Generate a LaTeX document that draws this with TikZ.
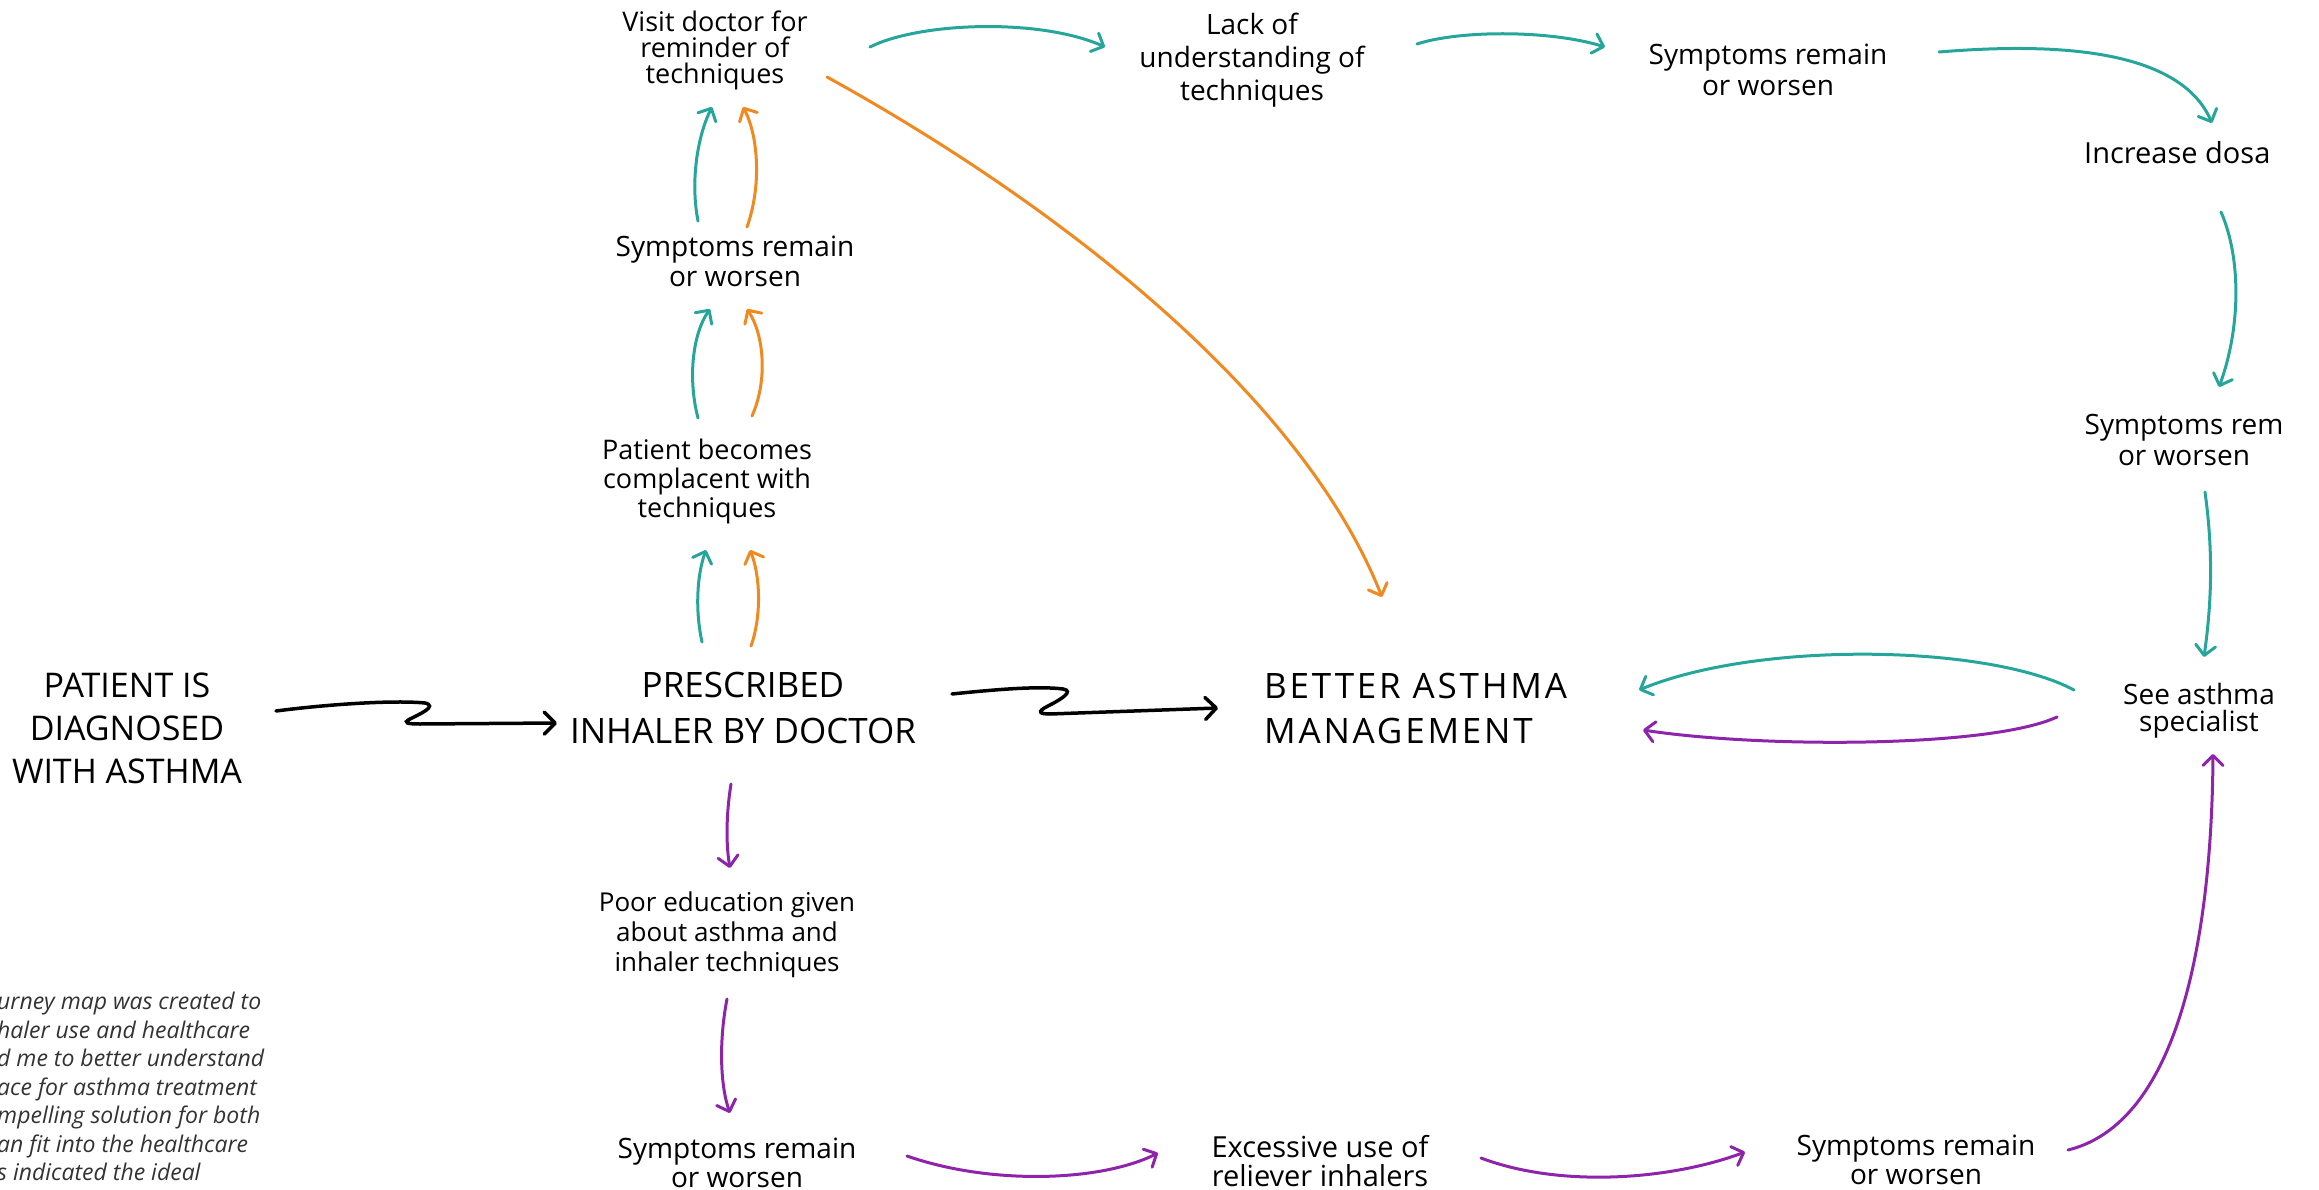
\documentclass[tikz,border=0pt]{standalone}
\usepackage{fontspec}
\setmainfont{Open Sans}
\newfontfamily\notefont{Open Sans}
\usetikzlibrary{arrows.meta,calc}

\definecolor{tealc}{HTML}{26A69A}
\definecolor{orangec}{HTML}{F0891F}
\definecolor{purplec}{HTML}{8E24AA}
\definecolor{notegray}{HTML}{333333}

\tikzset{
  headtxt/.style={align=center, inner sep=0pt, font=\fontsize{34}{43}\selectfont},
  steptxt/.style={align=center, inner sep=0pt, font=\fontsize{26}{29}\selectfont},
  flow/.style={line width=3pt, line cap=round,
    -{Straight Barb[length=10pt,width=20pt,round]}},
  mainflow/.style={flow, line width=3.5pt, black,
    -{Straight Barb[length=11pt,width=22pt,round]}},
  tealflow/.style={flow, tealc},
  orangeflow/.style={flow, orangec},
  purpleflow/.style={flow, purplec},
}

\begin{document}
\begin{tikzpicture}[x=1pt, y=-1pt]
\useasboundingbox (0,0) rectangle (2319,1190);
\clip (0,0) rectangle (2319,1190);

% main line
\node[headtxt] (pat) at (127,728) {PATIENT IS\\DIAGNOSED\\WITH ASTHMA};
\node[headtxt, font=\fontsize{35}{46}\selectfont] (pre) at (743,708) {PRESCRIBED\\INHALER BY DOCTOR};
\node[headtxt, font=\fontsize{35}{45}\selectfont\addfontfeatures{LetterSpace=8}, align=left, anchor=west] (bet) at (1264,708) {BETTER ASTHMA\\MANAGEMENT};

% upper path
\node[steptxt, font=\fontsize{27}{29}\selectfont] (comp) at (707,481) {Patient becomes\\complacent with\\techniques};
\node[steptxt, font=\fontsize{28}{30}\selectfont] (symC) at (735,261) {Symptoms remain\\or worsen};
\node[steptxt, font=\fontsize{27}{26}\selectfont] (vis) at (715,50) {Visit doctor for\\reminder of\\techniques};
\node[steptxt, font=\fontsize{28}{33}\selectfont] (lack) at (1252,60) {Lack of\\understanding of\\techniques};
\node[steptxt, font=\fontsize{28}{31}\selectfont] (symA) at (1768,70) {Symptoms remain\\or worsen};
\node[steptxt, font=\fontsize{29}{31}\selectfont, anchor=west] (inc) at (2084,153) {Increase dosa};
\node[steptxt, font=\fontsize{28}{31}\selectfont] (symB) at (2184,440) {Symptoms rem\\or worsen};
\node[steptxt, font=\fontsize{28}{27}\selectfont] (see) at (2199,711) {See asthma\\specialist};

% lower path
\node[steptxt, font=\fontsize{26}{30}\selectfont] (poor) at (727,935) {Poor education given\\about asthma and\\inhaler techniques};
\node[steptxt, font=\fontsize{28}{29}\selectfont] (symD) at (737,1163) {Symptoms remain\\or worsen};
\node[steptxt, font=\fontsize{29}{29}\selectfont] (exc) at (1320,1161) {Excessive use of\\reliever inhalers};
\node[steptxt, font=\fontsize{28}{29}\selectfont] (symE) at (1916,1160) {Symptoms remain\\or worsen};

% side note
\node[inner sep=0pt, anchor=north west, align=left, text=notegray,
      font=\notefont\itshape\fontsize{23}{28.5}\selectfont] (note) at (-3,992)
  {urney map was created to\\
   haler use and healthcare\\
   d me to better understand\\
   ace for asthma treatment\\
   mpelling solution for both\\
   an fit into the healthcare\\
   s indicated the ideal};

% main connectors (hand drawn zigzags)
\draw[mainflow] ($(pat)+(149,-17)$) .. controls (330,704) and (395,700) .. (425,703)
  .. controls (438,706) and (420,714) .. (410,719)
  .. controls (402,723) and (408,724) .. (420,724) -- ($(pre)+(-186,15)$);
\draw[mainflow] ($(pre)+(209,-14)$) .. controls (1000,689) and (1040,686) .. (1063,689)
  .. controls (1075,691) and (1060,700) .. (1048,706)
  .. controls (1036,712) and (1040,714) .. (1050,714) -- ($(bet.west)+(-46,0)$);

% teal / orange climb
\draw[tealflow] ($(pre)+(-41,-66)$) .. controls (695,610) and (697,575) .. ($(comp)+(-1,69)$);
\draw[orangeflow] ($(pre)+(8,-62)$) .. controls (762,615) and (760,575) .. ($(comp)+(43,69)$);
\draw[tealflow] ($(comp)+(-9,-63)$) .. controls (688,380) and (692,335) .. ($(symC)+(-25,48)$);
\draw[orangeflow] ($(comp)+(45,-65)$) .. controls (768,380) and (764,335) .. ($(symC)+(12,48)$);
\draw[tealflow] ($(symC)+(-37,-40)$) .. controls (690,180) and (698,135) .. ($(vis)+(-3,57)$);
\draw[orangeflow] ($(symC)+(12,-34)$) .. controls (762,185) and (758,135) .. ($(vis)+(28,57)$);

% orange shortcut
\draw[orangeflow] ($(vis)+(112,27)$) .. controls (1050,200) and (1300,390) .. ($(bet.west)+(118,-111)$);

% teal loop
\draw[tealflow] ($(vis)+(155,-3)$) .. controls (920,22) and (1040,18) .. ($(lack)+(-147,-13)$);
\draw[tealflow] ($(lack)+(165,-16)$) .. controls (1460,30) and (1550,30) .. ($(symA)+(-163,-23)$);
\draw[tealflow] ($(symA)+(171,-18)$) .. controls (2060,42) and (2180,50) .. ($(inc.west)+(128,-30)$);
\draw[tealflow] ($(inc.west)+(137,59)$) .. controls (2242,260) and (2240,330) .. ($(symB)+(35,-53)$);
\draw[tealflow] ($(symB)+(21,52)$) .. controls (2213,550) and (2212,600) .. ($(see)+(5,-54)$);
\draw[tealflow] ($(see)+(-125,-21)$) .. controls (1990,645) and (1760,640) .. ($(bet.west)+(375,-18)$);

% purple loop
\draw[purpleflow] ($(pre)+(-12,76)$) .. controls (726,815) and (726,845) .. ($(poor)+(3,-67)$);
\draw[purpleflow] ($(poor)+(0,64)$) .. controls (719,1040) and (720,1085) .. ($(symD)+(-7,-50)$);
\draw[purpleflow] ($(symD)+(170,-7)$) .. controls (990,1185) and (1100,1182) .. ($(exc)+(-162,-8)$);
\draw[purpleflow] ($(exc)+(161,-3)$) .. controls (1560,1188) and (1670,1180) .. ($(symE)+(-171,-8)$);
\draw[purpleflow] ($(symE)+(152,-10)$) .. controls (2190,1120) and (2212,900) .. ($(see)+(14,43)$);
\draw[purpleflow] ($(see)+(-142,6)$) .. controls (1990,748) and (1760,748) .. ($(bet.west)+(379,22)$);
\end{tikzpicture}
\end{document}
